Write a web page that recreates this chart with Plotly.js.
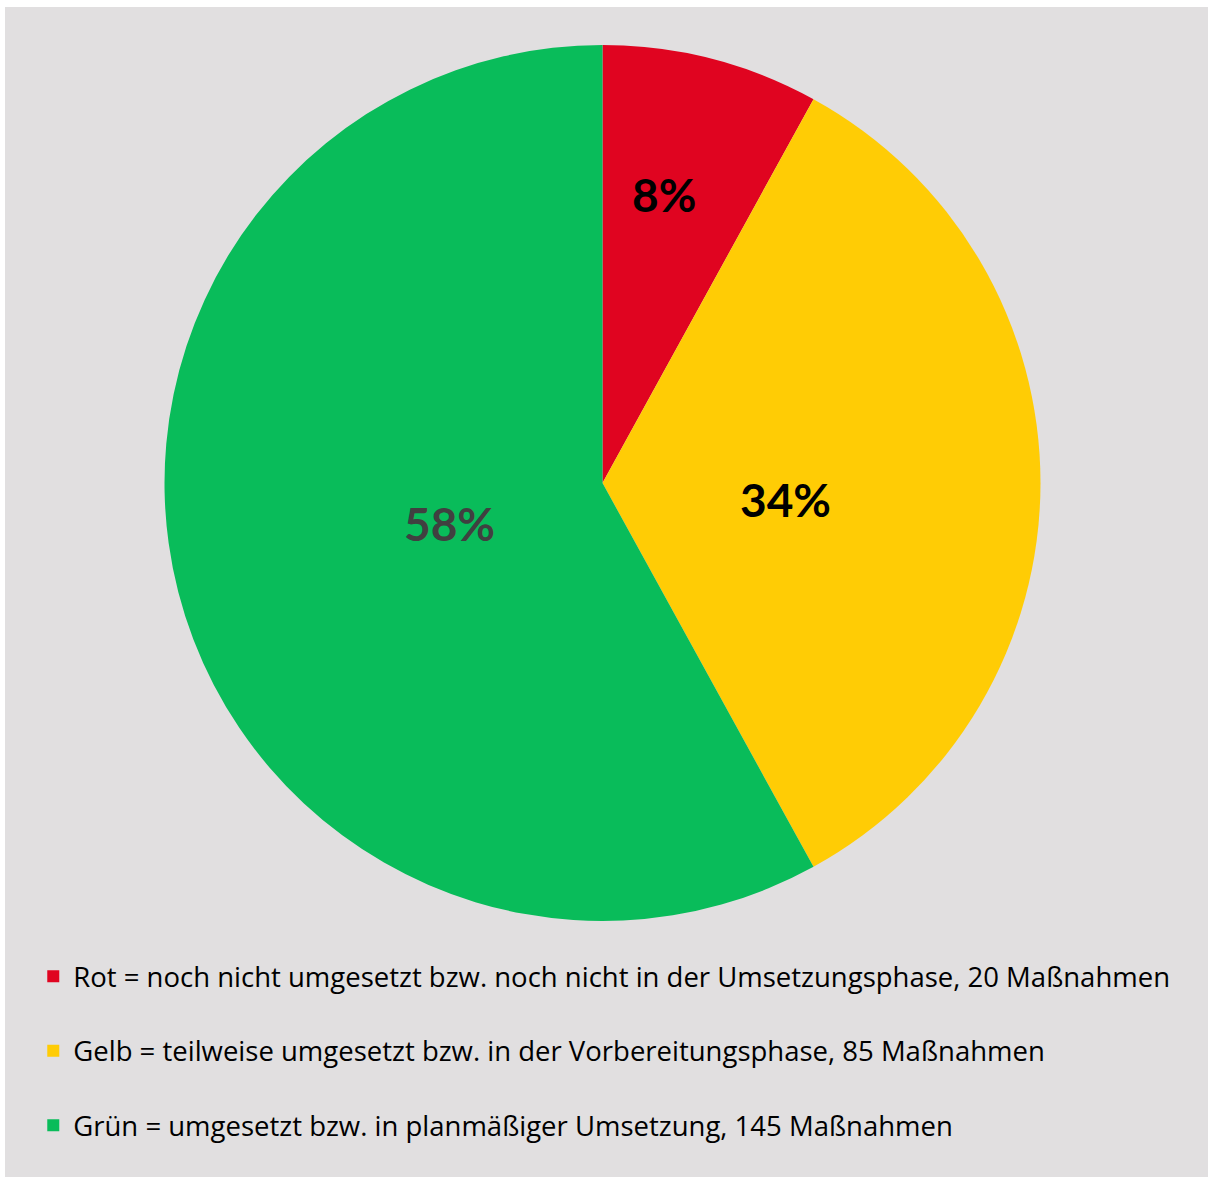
<!DOCTYPE html>
<html>
<head>
<meta charset="utf-8">
<script src="https://cdn.plot.ly/plotly-3.0.1.min.js"></script>
<style>
html,body{margin:0;padding:0;background:#ffffff;}
#chart{position:absolute;left:5px;top:7px;width:1203px;height:1170px;}
</style>
</head>
<body>
<div id="chart"></div>
<script>
const categories = [
  "Rot = noch nicht umgesetzt bzw. noch nicht in der Umsetzungsphase, 20 Maßnahmen",
  "Gelb = teilweise umgesetzt bzw. in der Vorbereitungsphase, 85 Maßnahmen",
  "Grün = umgesetzt bzw. in planmäßiger Umsetzung, 145 Maßnahmen"
];
const counts = [20, 85, 145];
const sliceColors = ["#E00420", "#FFCC05", "#09BC5A"];
const labelColors = ["#000000", "#000000", "#404040"];
// label placement (style): radius as fraction of pie radius, small angular shift in degrees
const labelRadius = [0.673, 0.42, 0.36];
const labelAngleShift = [-2.3, 5.3, -0.3];

const W = 1203, H = 1170;
const dom = {x: [0.13259, 0.86076], y: [0.21880, 0.96752]};

const trace = {
  type: "pie",
  // an empty second line gives the legend its wide row spacing
  labels: categories.map((c, i) => i < categories.length - 1 ? c + "<br>&nbsp;" : c),
  values: counts,
  sort: false,
  direction: "clockwise",
  rotation: 0,
  marker: {colors: sliceColors, line: {width: 0}},
  textinfo: "none",
  hoverinfo: "label+percent",
  domain: dom
};

// percentage labels computed from the data
const total = counts.reduce((a, b) => a + b, 0);
const Rpx = Math.min((dom.x[1] - dom.x[0]) * W, (dom.y[1] - dom.y[0]) * H) / 2;
const cx = (dom.x[0] + dom.x[1]) / 2, cy = (dom.y[0] + dom.y[1]) / 2;
let cum = 0;
const annotations = counts.map((v, i) => {
  const mid = (cum + v / 2) / total * 360 + labelAngleShift[i];
  cum += v;
  const a = mid * Math.PI / 180;
  const r = labelRadius[i] * Rpx;
  return {
    xref: "paper", yref: "paper",
    x: cx + r * Math.sin(a) / W,
    y: cy + r * Math.cos(a) / H,
    xanchor: "center", yanchor: "middle",
    showarrow: false,
    text: Math.round(v / total * 100) + "%",
    font: {family: "Lato, sans-serif", size: 46, color: labelColors[i], weight: "bold"}
  };
});

const layout = {
  width: W,
  height: H,
  margin: {l: 0, r: 0, t: 0, b: 0},
  paper_bgcolor: "#E1DFE0",
  plot_bgcolor: "#E1DFE0",
  showlegend: true,
  annotations: annotations,
  legend: {
    x: 0.0235, xanchor: "left",
    y: 0.1925, yanchor: "top",
    font: {family: "'Open Sans', sans-serif", size: 27.5, color: "#000000"},
    bgcolor: "rgba(0,0,0,0)",
    traceorder: "normal",
    valign: "top"
  }
};

Plotly.newPlot("chart", [trace], layout, {displayModeBar: false, staticPlot: true});
</script>
</body>
</html>
